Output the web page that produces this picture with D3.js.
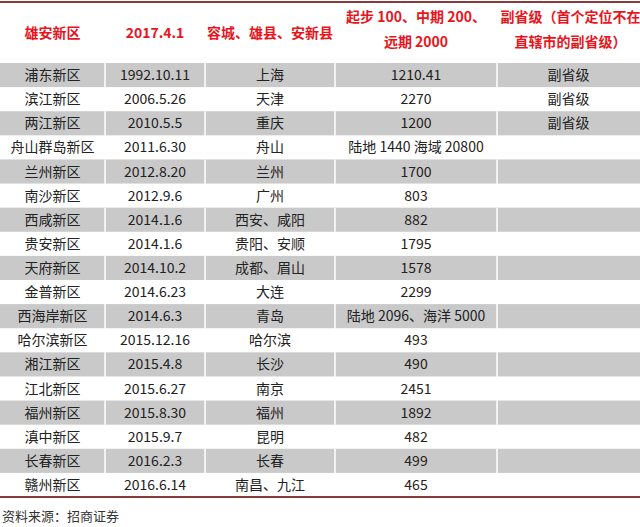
<!DOCTYPE html>
<html><head><meta charset="utf-8">
<script src="https://cdn.jsdelivr.net/npm/d3@7"></script>
<style>body{margin:0;background:#fff}</style></head>
<body><svg id="c" width="640" height="527"></svg>
<script>
const header = [["雄安新区"],["2017.4.1"],["容城、雄县、安新县"],["起步 100、中期 200、","远期 2000"],["副省级（首个定位不在","直辖市的副省级）"]];
const zones = ["浦东新区","滨江新区","两江新区","舟山群岛新区","兰州新区","南沙新区","西咸新区","贵安新区","天府新区","金普新区","西海岸新区","哈尔滨新区","湘江新区","江北新区","福州新区","滇中新区","长春新区","赣州新区"];
const dates = ["1992.10.11","2006.5.26","2010.5.5","2011.6.30","2012.8.20","2012.9.6","2014.1.6","2014.1.6","2014.10.2","2014.6.23","2014.6.3","2015.12.16","2015.4.8","2015.6.27","2015.8.30","2015.9.7","2016.2.3","2016.6.14"];
const cities = ["上海","天津","重庆","舟山","兰州","广州","西安、咸阳","贵阳、安顺","成都、眉山","大连","青岛","哈尔滨","长沙","南京","福州","昆明","长春","南昌、九江"];
const areas = ["1210.41","2270","1200","陆地 1440 海域 20800","1700","803","882","1795","1578","2299","陆地 2096、海洋 5000","493","490","2451","1892","482","499","465"];
const levels = ["副省级","副省级","副省级","","","","","","","","","","","","","","",""];
const colEdges = [0,105,205,335,497,640];
const svg = d3.select("#c");
const font = "'Noto Sans CJK SC','Noto Sans',sans-serif";
const y = d3.scaleBand().domain(d3.range(zones.length)).range([63,497]);
const cols = [zones,dates,cities,areas,levels];
// header
header.forEach((lines,i)=>{
  const cx=(colEdges[i]+colEdges[i+1])/2;
  lines.forEach((t,j)=>{
    svg.append("text").attr("x",cx+(i==4?2:0)).attr("y",lines.length==1?38:22+j*25)
      .attr("text-anchor","middle").attr("fill","#e8141c").attr("font-weight","bold")
      .attr("font-size",14).attr("font-family",font).text(t);
  });
});
svg.append("line").attr("x1",0).attr("x2",640).attr("y1",2).attr("y2",2).attr("stroke","#8a3a3a").attr("stroke-width",2);
const rows = svg.selectAll("g.r").data(zones).join("g");
rows.each(function(z,r){
  const g=d3.select(this);
  if(r%2==0){
    g.append("rect").attr("x",0).attr("y",y(r)).attr("width",640).attr("height",y.bandwidth()).attr("fill","#c9c9c9");
  }
  colEdges.slice(1,-1).forEach(x=>g.append("line").attr("x1",x).attr("x2",x).attr("y1",y(r)).attr("y2",y(r)+y.bandwidth()).attr("stroke","#fff").attr("stroke-width",1.5));
  cols.forEach((c,i)=>{
    g.append("text").attr("x",(colEdges[i]+colEdges[i+1])/2).attr("y",y(r)+y.bandwidth()/2+5)
      .attr("text-anchor","middle").attr("fill","#222").attr("font-size",14).attr("font-family",font).text(c[r]);
  });
});
svg.append("line").attr("x1",0).attr("x2",640).attr("y1",497).attr("y2",497).attr("stroke","#8a3a3a").attr("stroke-width",2);
svg.append("text").attr("x",2).attr("y",521).attr("font-size",13).attr("fill","#333").attr("font-family","'Noto Sans CJK SC',serif").text("资料来源：招商证券");
</script></body></html>
